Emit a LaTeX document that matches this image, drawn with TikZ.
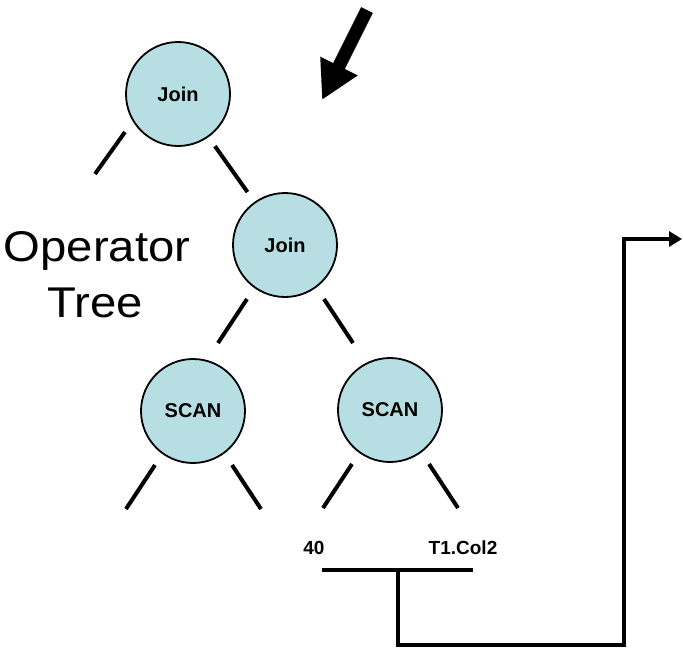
\documentclass[tikz,border=0pt]{standalone}
\usepackage{fontspec}
\setmainfont{Liberation Sans}
\usetikzlibrary{arrows.meta}
\definecolor{opblue}{RGB}{183,223,227}

\begin{document}
\begin{tikzpicture}[x=1pt, y=-1pt,
    op/.style={circle, draw, line width=1.8pt, fill=opblue, minimum size=104pt,
        inner sep=0pt, font=\fontsize{20}{24}\selectfont\bfseries},
    stub/.style={line width=4pt},
    wire/.style={line width=4.5pt},
    leaf/.style={anchor=base, font=\fontsize{19}{23}\selectfont\bfseries},
    caption/.style={anchor=base, font=\fontsize{43}{50}\selectfont}]
    \useasboundingbox (0,0) rectangle (683,649);

    % Operators
    \node[op] (join1) at (178,94) {Join};
    \node[op] (join2) at (285,245) {Join};
    \node[op] (scanL) at (193,411) {SCAN};
    \node[op] (scanR) at (390,410) {SCAN};

    % Branches
    \draw[stub, shorten <=11pt, shorten >=12pt] (join1) -- (join2);
    \draw[stub] ([shift={(-53,38)}]join1.center) -- ++(-30,42);
    \foreach \n in {join2, scanL, scanR} {
        \draw[stub] ([shift={(-38,54)}]\n.center) -- ++(-29,44);
        \draw[stub] ([shift={(39,54)}]\n.center) -- ++(29,44);
    }

    % Leaf values
    \node[leaf] (val) at (314,554) {40};
    \node[leaf] (col) at (463,554) {T1.Col2};

    % Bar and output line
    \coordinate (barL) at (322,570);
    \coordinate (barR) at (473,570);
    \coordinate (tap) at (398,570);
    \coordinate (turn) at (624,645);
    \coordinate (out) at (682,239);
    \draw[wire] (barL) -- (barR);
    \draw[wire, -{Triangle[length=13pt, width=15pt]}] (tap) |- (turn) |- (out);

    % Caption
    \node[caption] (opText) at (97,261) {\scalebox{1.1}[1]{Operator}};
    \node[caption] (treeText) at (95,317) {\scalebox{1.1}[1]{Tree}};

    % Pointer
    \coordinate (ptrTail) at (367,10);
    \coordinate (ptrHead) at (322,100);
    \draw[line width=13pt, -{Triangle[length=38pt, width=39pt]}] (ptrTail) -- (ptrHead);
\end{tikzpicture}
\end{document}
